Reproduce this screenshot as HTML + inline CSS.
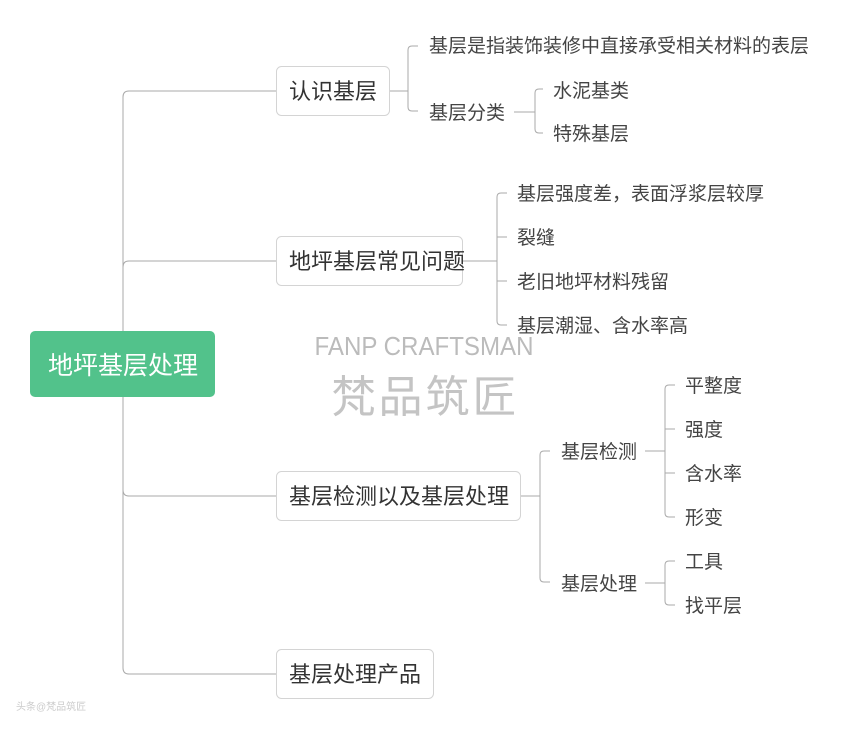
<!DOCTYPE html>
<html><head><meta charset="utf-8"><style>
html,body{margin:0;padding:0;background:#fff;}
svg{display:block;}
text{font-family:"Liberation Sans","Noto Sans CJK SC",sans-serif;}
</style></head><body>
<svg width="848" height="729" viewBox="0 0 848 729" xmlns="http://www.w3.org/2000/svg">
<g fill="none" stroke="#aaa" stroke-width="1">
<path d="M123 331 V97 Q123 91 129 91 H276"/>
<path d="M123 267 Q123 261 129 261 H276"/>
<path d="M123 397 V490 Q123 496 129 496 H276"/>
<path d="M123 490 V668 Q123 674 129 674 H276"/>
<path d="M390 91 H408"/>
<path d="M418 46 H412 Q408 46 408 50 V107 Q408 111 412 111 H418"/>
<path d="M514 112 H535"/>
<path d="M543 89 H539 Q535 89 535 93 V129 Q535 133 539 133 H543"/>
<path d="M463 261 H497"/>
<path d="M507 193 H501 Q497 193 497 197 V321 Q497 325 501 325 H507"/>
<path d="M497 237 H507 M497 281 H507"/>
<path d="M521 496 H540"/>
<path d="M550 451 H544 Q540 451 540 455 V578 Q540 582 544 582 H550"/>
<path d="M645 451 H665"/>
<path d="M675 385 H669 Q665 385 665 389 V513 Q665 517 669 517 H675"/>
<path d="M665 429 H675 M665 473 H675"/>
<path d="M645 583 H665"/>
<path d="M675 561 H669 Q665 561 665 565 V601 Q665 605 669 605 H675"/>
</g>
<rect x="30" y="331" width="185" height="66" rx="5" fill="#52c28b"/>
<text x="123" y="374" font-size="25" fill="#fff" text-anchor="middle">地坪基层处理</text>
<g fill="#fff" stroke="#d4d4d4" stroke-width="1">
<rect x="276.5" y="66.5" width="113" height="49" rx="5"/>
<rect x="276.5" y="236.5" width="186" height="49" rx="5"/>
<rect x="276.5" y="471.5" width="244" height="49" rx="5"/>
<rect x="276.5" y="649.5" width="157" height="49" rx="5"/>
</g>
<g font-size="22" fill="#333">
<text x="289" y="99">认识基层</text>
<text x="289" y="269">地坪基层常见问题</text>
<text x="289" y="504">基层检测以及基层处理</text>
<text x="289" y="682">基层处理产品</text>
</g>
<g font-size="19" fill="#444">
<text x="429" y="52">基层是指装饰装修中直接承受相关材料的表层</text>
<text x="429" y="119">基层分类</text>
<text x="553" y="97">水泥基类</text>
<text x="553" y="140">特殊基层</text>
<text x="517" y="200">基层强度差，表面浮浆层较厚</text>
<text x="517" y="244">裂缝</text>
<text x="517" y="288">老旧地坪材料残留</text>
<text x="517" y="332">基层潮湿、含水率高</text>
<text x="561" y="458">基层检测</text>
<text x="561" y="590">基层处理</text>
<text x="685" y="392">平整度</text>
<text x="685" y="436">强度</text>
<text x="685" y="480">含水率</text>
<text x="685" y="524">形变</text>
<text x="685" y="568">工具</text>
<text x="685" y="612">找平层</text>
</g>
<text x="424" y="355" font-size="26" fill="#bbb" text-anchor="middle" textLength="219" lengthAdjust="spacingAndGlyphs">FANP CRAFTSMAN</text>
<text x="424" y="412" font-size="44" fill="#c4c4c4" text-anchor="middle" textLength="185" lengthAdjust="spacing">梵品筑匠</text>
<text x="16" y="710" font-size="10" fill="#ccc">头条@梵品筑匠</text>
</svg>
</body></html>
